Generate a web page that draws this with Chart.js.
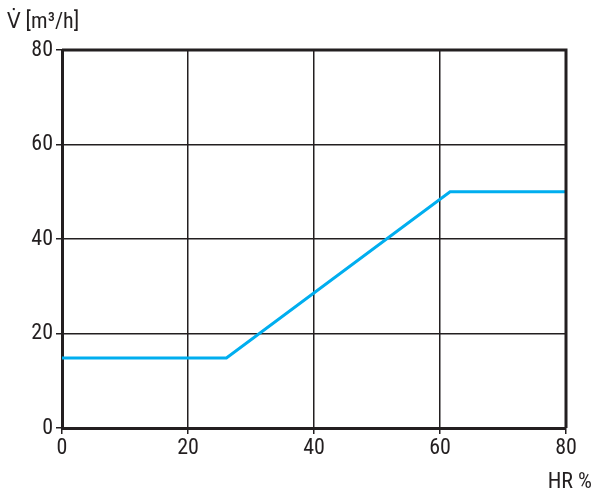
<!DOCTYPE html>
<html><head><meta charset="utf-8">
<script src="https://cdn.jsdelivr.net/npm/chart.js@4"></script>
<style>html,body{margin:0;padding:0;background:#fff}#wrap{width:600px;height:499px}</style>
</head><body><div id="wrap"><canvas id="c"></canvas></div>
<script>
const xValues = [0, 26.1, 61.6, 80];
const yValues = [14.8, 14.8, 50, 50];
const xTicks = [0, 20, 40, 60, 80];
const yTicks = [0, 20, 40, 60, 80];
const yTitle = 'V\u0307 [m\u00B3/h]';
const xTitle = 'HR %';

const FONT = '"Liberation Sans Narrow", "Roboto Condensed", "DejaVu Sans Condensed", Arial, sans-serif';
const TXT = '#231f20';

const titles = {
  id: 'titles',
  afterDraw(chart) {
    const ctx = chart.ctx;
    ctx.save();
    ctx.fillStyle = TXT;
    ctx.font = '22px ' + FONT;
    ctx.textBaseline = 'alphabetic';
    ctx.textAlign = 'left';
    ctx.fillText(yTitle, 7, 28);
    ctx.textAlign = 'right';
    ctx.fillText(xTitle, 592, 488);
    ctx.restore();
  }
};

new Chart(document.getElementById('c'), {
  type: 'line',
  data: {
    datasets: [{
      data: xValues.map((x, i) => ({x, y: yValues[i]})),
      borderColor: '#00aeef',
      borderWidth: 3,
      pointRadius: 0,
      tension: 0,
      fill: false
    }]
  },
  options: {
    responsive: true,
    maintainAspectRatio: false,
    animation: false,
    layout: { padding: { top: 50, right: 34, left: 0, bottom: 0 } },
    plugins: { legend: { display: false }, tooltip: { enabled: false } },
    scales: {
      x: {
        type: 'linear', min: 0, max: 80,
        afterBuildTicks: s => { s.ticks = xTicks.map(v => ({value: v})); },
        afterFit: s => { s.height = 71; },
        grid: { color: '#231f20', lineWidth: 1.5, tickLength: 6, tickColor: '#231f20' },
        border: { color: '#231f20', width: 3 },
        ticks: { color: TXT, font: { family: FONT, size: 22 }, padding: 1, maxRotation: 0 }
      },
      y: {
        type: 'linear', min: 0, max: 80,
        afterBuildTicks: s => { s.ticks = yTicks.map(v => ({value: v})); },
        afterFit: s => { s.width = 62; },
        grid: { color: '#231f20', lineWidth: 1.5, tickLength: 6, tickColor: '#231f20' },
        border: { color: '#231f20', width: 3 },
        ticks: { color: TXT, font: { family: FONT, size: 22 }, padding: 3 }
      }
    }
  },
  plugins: [titles, {
    id: 'frame',
    afterDatasetsDraw(chart) {
      const ctx = chart.ctx, a = chart.chartArea;
      ctx.save();
      ctx.strokeStyle = '#231f20';
      ctx.lineWidth = 3;
      ctx.beginPath();
      ctx.moveTo(a.left, a.top); ctx.lineTo(a.right, a.top); ctx.lineTo(a.right, a.bottom);
      ctx.stroke();
      ctx.restore();
    }
  }]
});
</script></body></html>
